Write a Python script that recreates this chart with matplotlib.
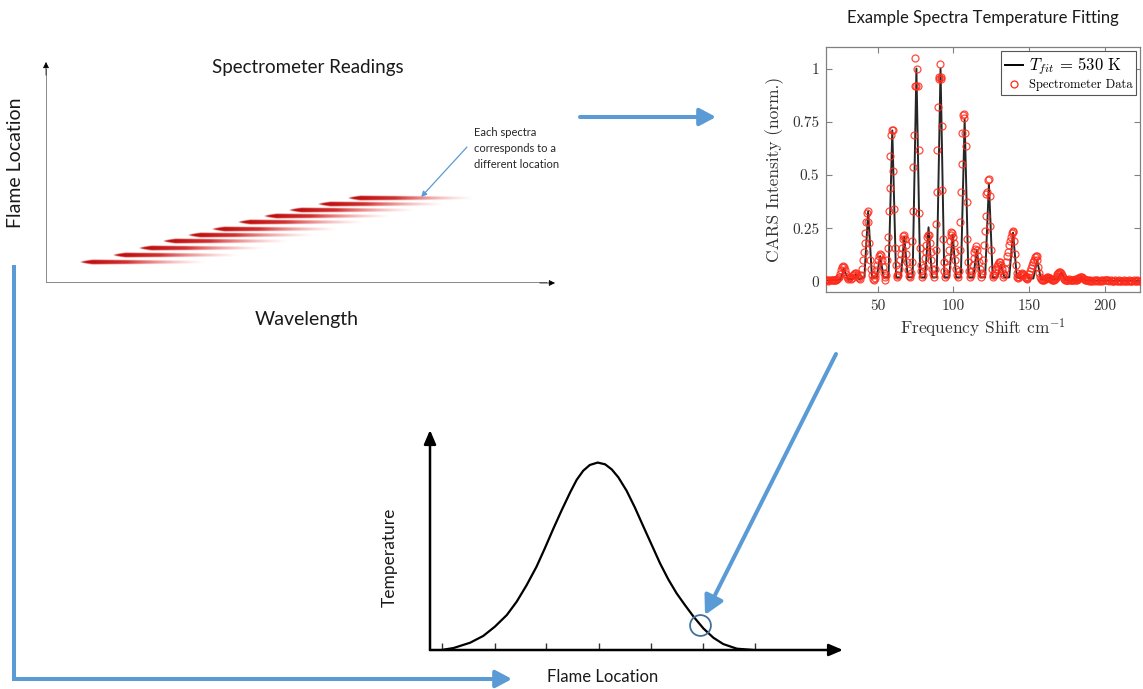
import numpy as np
import matplotlib.pyplot as plt
from matplotlib.lines import Line2D

plt.rcParams['mathtext.fontset'] = 'cm'
plt.rcParams['axes.formatter.use_mathtext'] = True

# ---- panel 1: spectrometer readings (start wavelength / flame location of each spectrum)
streak_start = [6.6, 13.1, 18.2, 22.9, 27.9, 32.7, 37.8, 42.9, 47.7, 53.4, 59.3]
streak_loc = [9.5, 12.5, 15.7, 18.6, 21.6, 24.4, 27.3, 30.0, 32.7, 35.6, 38.3]
streak_len = 24.6

# ---- panel 2: CARS spectrum, measured points
spec_x = (
    [15.5, 16.2, 16.9, 17.6, 18.3, 19.0, 19.7, 20.4, 21.1, 21.8, 22.5, 23.2, 23.9, 24.6]
    + [25.3, 26.0, 26.7, 27.3, 28.0, 28.6, 29.2, 29.9, 30.5, 31.2, 31.9, 32.6, 33.2, 33.9]
    + [34.6, 35.3, 35.9, 36.6, 37.3, 38.0, 38.7]
    + [39.4, 40.0, 40.5, 41.0, 41.5, 42.0, 42.4, 42.8, 43.4, 44.0, 44.5, 45.1, 45.6, 46.2, 46.8]
    + [47.4, 48.0, 48.6, 49.2, 49.8, 50.4, 51.0, 51.6, 52.2, 52.8, 53.4, 54.0, 54.6, 55.2]
    + [55.8, 56.3, 56.8, 57.2, 57.6, 58.0, 58.4, 58.8, 59.4, 59.9, 60.4, 60.9, 61.4, 61.9, 62.5, 63.1]
    + [63.7, 64.3, 64.9, 65.5, 66.0, 66.5, 67.0, 67.5, 68.0, 68.5, 69.0, 69.5, 70.1, 70.7]
    + [71.3, 71.9, 72.4, 72.8, 73.1, 73.5, 74.1, 74.5, 75.0, 75.5, 76.1, 76.7, 77.2, 77.4, 77.8, 78.3, 78.9, 79.5]
    + [80.0, 80.5, 81.1, 81.7, 82.2, 82.8, 83.3, 83.9, 84.4, 84.9, 85.5, 86.1, 86.6, 87.2]
    + [87.8, 88.3, 88.7, 89.1, 89.4, 89.9, 90.3, 90.7, 91.2, 91.6, 92.0, 92.4, 92.8, 93.2, 93.6, 94.1, 94.7]
    + [95.3, 95.9, 96.4, 97.0, 97.5, 98.1, 98.6, 99.2, 99.7, 100.2, 100.8, 101.3, 101.9, 102.5, 103.0]
    + [103.6, 104.2, 104.6, 105.0, 105.4, 105.8, 106.2, 106.7, 107.2, 107.7, 108.2, 108.7, 109.2, 109.7, 110.3, 110.9]
    + [111.5, 112.1, 112.7, 113.3, 113.8, 114.4, 114.9, 115.5, 116.1, 116.7, 117.3, 117.9, 118.5]
    + [119.1, 119.7, 120.3, 120.8, 121.3, 121.8, 122.3, 122.8, 123.3, 123.8, 124.2, 124.7, 125.2, 125.8, 126.4]
    + [127.0, 127.6, 128.2, 128.8, 129.4, 130.0, 130.6, 131.2, 131.8, 132.4, 133.0]
    + [133.6, 134.2, 134.8, 135.4, 136.0, 136.6, 137.2, 137.8, 138.4, 139.0, 139.5, 140.0, 140.5, 141.0, 141.6, 142.2]
    + [142.8, 143.4, 144.0, 144.6, 145.2, 145.8, 146.4, 147.0, 147.6, 148.2, 148.8]
    + [149.4, 150.0, 150.6, 151.2, 151.8, 152.4, 153.0, 153.6, 154.2, 154.8, 155.4, 156.0, 156.6, 157.2, 157.8]
    + [158.4, 159.0, 159.6, 160.2, 160.8, 161.4, 162.0, 162.6, 163.2, 163.8, 164.4, 165.0, 165.6, 166.2, 166.8,
       167.4, 168.0, 168.6, 169.2, 169.8, 170.4, 171.0, 171.6, 172.2, 172.8, 173.4, 174.0, 174.6, 175.2, 175.8,
       176.4, 177.0, 177.6, 178.2, 178.8, 179.4, 180.0, 180.6, 181.2, 181.8, 182.4, 183.0, 183.6, 184.2, 184.8,
       185.4, 186.0, 186.6, 187.2, 187.8]
    + [188.4, 189.2, 190.0, 190.8, 191.6, 192.4, 193.2, 194.0, 194.8, 195.6, 196.4, 197.2, 198.0, 198.8, 199.6,
       200.4, 201.2, 202.0, 202.8, 203.6, 204.4, 205.2, 206.0, 206.8, 207.6, 208.4, 209.2, 210.0, 210.8, 211.6,
       212.4, 213.2, 214.0, 214.8, 215.6, 216.4, 217.2, 218.0, 218.8, 219.6, 220.4, 221.2, 222.0, 222.8]
)
spec_y = (
    [.008, .006, .008, .005, .007, .009, .008, .006, .007, .009, .008, .012, .015, .02]
    + [.035, .055, .068, .073, .07, .055, .035, .02, .012, .015, .02, .012, .018, .03]
    + [.038, .042, .04, .03, .02, .015, .012]
    + [.03, .06, .10, .14, .18, .23, .28, .32, .33, .28, .18, .10, .06, .03, .012]
    + [.01, .015, .03, .055, .08, .10, .12, .13, .125, .10, .07, .04, .02, .01]
    + [.03, .10, .16, .21, .33, .44, .59, .69, .71, .71, .52, .34, .16, .08, .03, .02]
    + [.03, .06, .10, .13, .16, .20, .215, .22, .20, .17, .13, .09, .055, .025]
    + [.02, .04, .09, .19, .33, .54, .69, .92, 1.05, .92, 1.0, .92, .62, .32, .16, .08, .05, .02]
    + [.03, .07, .11, .14, .17, .21, .22, .22, .18, .14, .10, .06, .035, .02]
    + [.06, .15, .27, .42, .62, .82, .96, .95, 1.02, .96, .95, .73, .43, .20, .09, .05, .02]
    + [.03, .07, .11, .15, .19, .22, .235, .23, .21, .18, .14, .10, .06, .03, .02]
    + [.05, .15, .28, .42, .55, .70, .78, .785, .77, .70, .635, .375, .20, .09, .05, .02]
    + [.03, .05, .08, .11, .14, .155, .165, .15, .12, .09, .06, .035, .02]
    + [.04, .10, .17, .24, .31, .41, .42, .475, .48, .40, .26, .15, .06, .03, .02]
    + [.03, .04, .06, .075, .085, .09, .09, .08, .06, .04, .02]
    + [.03, .06, .09, .12, .14, .17, .19, .21, .23, .24, .235, .19, .13, .08, .04, .02]
    + [.015, .02, .03, .035, .04, .035, .03, .02, .015, .012, .015]
    + [.02, .035, .05, .065, .08, .09, .10, .115, .12, .12, .10, .07, .04, .02, .012]
    + [.01, .008, .01, .012, .015, .018, .02, .02, .018, .015, .012, .01, .008, .01, .012,
       .018, .025, .035, .04, .045, .045, .04, .03, .02, .012, .008, .006, .006, .008, .01,
       .012, .01, .008, .006, .008, .01, .012, .01, .01, .012, .015, .018, .02, .022, .02,
       .016, .012, .01, .008, .007]
    + [.006, .005, .007, .005, .004, .006, .005, .007, .006, .004, .005, .006, .005, .007, .008,
       .009, .008, .006, .005, .006, .005, .004, .005, .006, .005, .004, .006, .005, .004, .005,
       .006, .005, .004, .005, .006, .005, .004, .005, .006, .004, .005, .006, .005, .004]
)

# fitted spectrum (T_fit = 530 K), vertices
fit_x = [15, 18.5, 19.9, 21.5, 25.5, 27.9, 30.3, 33.8, 35.8, 37.8, 41.3, 43.8, 46.3, 49.4, 51.7, 54.0,
         57.2, 59.7, 62.2, 65.3, 67.6, 69.9, 73.1, 75.6, 78.1, 81.3, 83.6, 85.9, 89.0, 91.5, 94.0,
         97.2, 99.5, 101.8, 104.9, 107.4, 109.9, 113.1, 115.4, 117.7, 120.9, 123.4, 125.9, 129.0,
         131.3, 133.6, 136.8, 139.3, 141.8, 145.0, 147.3, 149.6, 152.7, 155.2, 157.7, 160.8, 163.1,
         165.4, 168.6, 171.1, 173.6, 177, 179, 181, 184.5, 187, 190, 223]
fit_y = [.005, .006, .012, .006, .01, .06, .012, .012, .035, .012, .02, .33, .02, .02, .12, .02,
         .02, .71, .02, .02, .21, .02, .02, 1.0, .02, .02, .255, .02, .02, 1.0, .02,
         .02, .22, .02, .02, .76, .02, .02, .15, .02, .02, .46, .02, .02,
         .08, .02, .02, .23, .02, .015, .035, .015, .015, .10, .012, .01, .02,
         .01, .01, .045, .008, .006, .008, .006, .02, .006, .005, .004]

xticks_cars = [50, 100, 150, 200]
yticks_cars = [0, 0.25, 0.5, 0.75, 1]
ytick_labels = ['0', '0.25', '0.5', '0.75', '1']

# ---- panel 3: temperature profile sketch
flame_loc = [2.8, 5.7, 9.7, 12.9, 15.7, 18.6, 21.0, 23.4, 25.8, 27.8, 29.9, 31.9, 33.9, 35.5,
             37.1, 38.7, 40.6, 42.4, 44.0, 45.6, 47.6, 49.6, 51.6, 53.7, 55.7, 57.7, 59.7, 61.7,
             63.8, 66.2, 68.6, 71.0, 74.3, 78.3]
temperature = [0, 0.9, 3.3, 6.4, 10.6, 15.9, 22.0, 29.5, 37.9, 46.2, 55.3, 63.6, 71.5, 77.3,
               81.5, 84.1, 85.2, 84.4, 82.1, 78.5, 72.4, 64.8, 56.4, 47.7, 39.4, 32.1, 25.8, 20.5,
               15.2, 9.8, 5.6, 2.7, 0.6, 0]
loc_ticks = [2.8, 15.7, 28.2, 40.9, 53.5, 66.0, 78.8]
probe_loc = 65.4
probe_temp = 11.4

W, H = 1143, 689
blue = '#5B9BD5'
sans = 'Lato'

fig = plt.figure(figsize=(W / 100, H / 100), dpi=100)

# ================= panel 1
ax1 = fig.add_axes([46 / W, 1 - 283 / H, 509 / W, 221 / H])
u = np.linspace(0, 1, 400)
v = np.linspace(-1, 1, 31)
U, V = np.meshgrid(u, v)
half = np.clip(U * 10, 0, 1) ** 0.6 * (1 - 0.4 * U)
shape = np.clip((half - np.abs(V)) * 2.5, 0, 1)
fade = np.clip(1.6 * (1 - U), 0, 1) ** 1.1
rgba = np.zeros(U.shape + (4,))
rgba[..., 0] = 0.74 + 0.22 * U
rgba[..., 1] = 0.02 + 0.45 * U
rgba[..., 2] = 0.02 + 0.45 * U
rgba[..., 3] = shape * fade
for x0, y0 in zip(streak_start, streak_loc):
    ax1.imshow(rgba, extent=[x0, x0 + streak_len, y0 - 1.15, y0 + 1.15],
               aspect='auto', interpolation='bilinear', zorder=2)
ax1.plot([0, 98.5], [0, 0], color='#808080', lw=1.3, solid_capstyle='butt')
ax1.plot([0, 0], [0, 97], color='#808080', lw=1.3, solid_capstyle='butt')
ax1.annotate('', xy=(100, 0), xytext=(97, 0),
             arrowprops=dict(arrowstyle='-|>', color='black', lw=0.5, mutation_scale=9,
                             shrinkA=0, shrinkB=0))
ax1.annotate('', xy=(0, 100), xytext=(0, 94),
             arrowprops=dict(arrowstyle='-|>', color='black', lw=0.5, mutation_scale=9,
                             shrinkA=0, shrinkB=0))
ax1.annotate('', xy=(73.7, 38.9), xytext=(82.7, 61.5),
             arrowprops=dict(arrowstyle='-|>', color=blue, lw=0.9, mutation_scale=8,
                             shrinkA=0, shrinkB=0))
ax1.text(84.1, 61, 'Each spectra\ncorresponds to a\ndifferent location', family=sans,
         fontsize=8, ha='left', va='center', linespacing=1.55, color='#262626')
ax1.set_xlim(0, 100)
ax1.set_ylim(0, 100)
ax1.axis('off')

fig.text(308 / W, 1 - 67 / H, 'Spectrometer Readings', family=sans, fontsize=13.5,
         ha='center', va='center', color='#1a1a1a')
fig.text(16 / W, 1 - 163 / H, 'Flame Location', family=sans, fontsize=14, rotation=90,
         ha='center', va='center', color='#1a1a1a')
fig.text(307 / W, 1 - 319 / H, 'Wavelength', family=sans, fontsize=14,
         ha='center', va='center', color='#1a1a1a')

# ================= panel 2
ax2 = fig.add_axes([826 / W, 1 - 292.3 / H, 314 / W, 245 / H])
ax2.plot(fit_x, fit_y, color='black', lw=1.4, alpha=0.85, zorder=2)
ax2.plot(spec_x, spec_y, 'o', ms=5, mfc='none', mec='#ff2a1a', mew=0.9, alpha=0.85, zorder=3)
ax2.set_xlim(16, 223)
ax2.set_ylim(-0.05, 1.1)
ax2.set_xticks(xticks_cars)
ax2.set_xticklabels([str(t) for t in xticks_cars])
ax2.set_yticks(yticks_cars)
ax2.set_yticklabels(ytick_labels)
ax2.tick_params(direction='in', top=True, right=True, length=4, width=0.8,
                color='#808080', labelsize=11, labelcolor='#333333', pad=5)
for lab in ax2.get_xticklabels() + ax2.get_yticklabels():
    lab.set_family('cmr10')
for s in ax2.spines.values():
    s.set_color('#808080')
    s.set_linewidth(0.9)
ax2.set_xlabel(r'Frequency Shift cm$^{-1}$', family='cmr10', fontsize=12.5, color='#333333',
               labelpad=3)
ax2.set_ylabel('CARS Intensity (norm.)', family='cmr10', fontsize=12.5, color='#333333',
               labelpad=6)
handles = [Line2D([], [], color='black', lw=1.4),
           Line2D([], [], marker='o', ls='none', ms=5, mfc='none', mec='#ff2a1a', mew=0.9)]
leg = ax2.legend(handles, [r'$T_{fit}\,=\,530\ \mathrm{K}$', 'Spectrometer Data'],
                 loc='upper right', fancybox=False, framealpha=1, edgecolor='#555555',
                 borderpad=0.3, handlelength=1.4, handletextpad=0.5, labelspacing=0.2,
                 borderaxespad=0.3, prop={'family': 'cmr10', 'size': 9})
leg.get_frame().set_linewidth(0.8)
leg.get_texts()[0].set_fontsize(12)
fig.text(983 / W, 1 - 18 / H, 'Example Spectra Temperature Fitting', family=sans,
         fontsize=12, ha='center', va='center', color='#1a1a1a')

# ================= panel 3
ax3 = fig.add_axes([430 / W, 1 - 650 / H, 413 / W, 220 / H])
ax3.plot(flame_loc, temperature, color='black', lw=1.6, solid_joinstyle='round')
ax3.vlines(loc_ticks, 0, 3.2, color='#333333', lw=1.0)
ax3.plot([probe_loc], [probe_temp], 'o', ms=15, mfc='none', mec='#41719C', mew=1.3)
ax3.annotate('', xy=(100, 0), xytext=(0, 0),
             arrowprops=dict(arrowstyle='-|>,head_length=0.7,head_width=0.3', color='black',
                             lw=1.8, mutation_scale=12, shrinkA=0, shrinkB=0))
ax3.annotate('', xy=(0, 100), xytext=(0, 0),
             arrowprops=dict(arrowstyle='-|>,head_length=0.7,head_width=0.3', color='black',
                             lw=1.8, mutation_scale=12, shrinkA=0, shrinkB=0))
ax3.set_xlim(0, 100)
ax3.set_ylim(0, 100)
ax3.axis('off')
fig.text(390 / W, 1 - 557 / H, 'Temperature', family=sans, fontsize=12.5, rotation=90,
         ha='center', va='center', color='#1a1a1a')
fig.text(603 / W, 1 - 677 / H, 'Flame Location', family=sans, fontsize=12,
         ha='center', va='center', color='#1a1a1a')

# ================= connecting blue arrows (figure pixel space)
ov = fig.add_axes([0, 0, 1, 1])
ov.set_xlim(0, W)
ov.set_ylim(H, 0)
ov.axis('off')
astyle = '-|>,head_length=0.75,head_width=0.4'
ov.annotate('', xy=(716, 117), xytext=(580, 117),
            arrowprops=dict(arrowstyle=astyle, color=blue, lw=2.9, mutation_scale=13,
                            shrinkA=0, shrinkB=0))
ov.plot([13.5, 13.5, 500], [265, 679, 679], color=blue, lw=2.9, solid_joinstyle='miter',
        solid_capstyle='butt')
ov.annotate('', xy=(512, 679), xytext=(495, 679),
            arrowprops=dict(arrowstyle=astyle, color=blue, lw=2.9, mutation_scale=13,
                            shrinkA=0, shrinkB=0))
ov.annotate('', xy=(705, 615), xytext=(836, 354),
            arrowprops=dict(arrowstyle=astyle, color=blue, lw=2.9, mutation_scale=15,
                            shrinkA=0, shrinkB=0))

fig.savefig('out.png', dpi=100)
